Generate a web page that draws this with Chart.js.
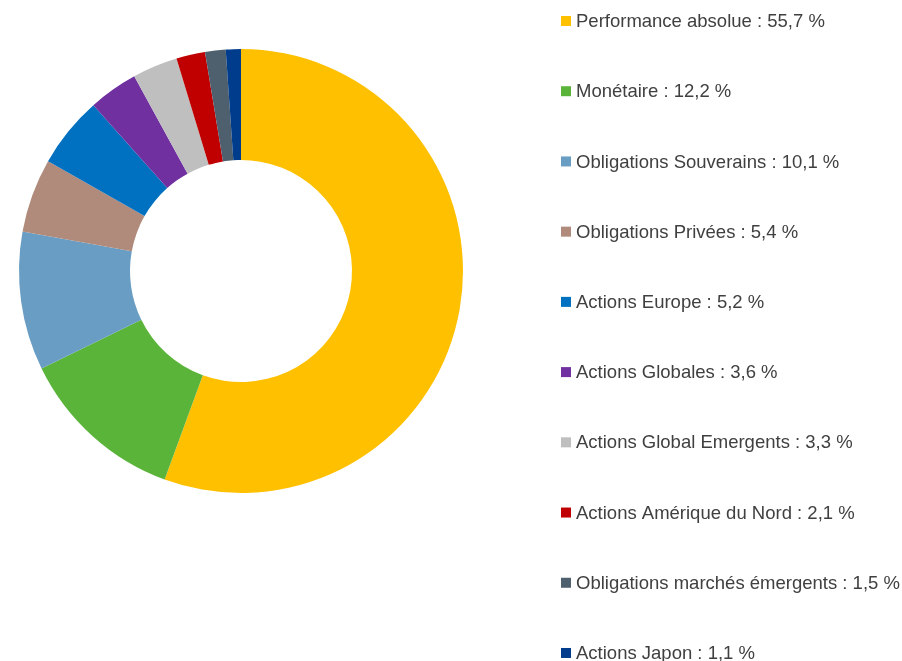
<!DOCTYPE html>
<html>
<head>
<meta charset="utf-8">
<script src="https://cdn.jsdelivr.net/npm/chart.js@4"></script>
<style>
  html, body { margin: 0; padding: 0; background: #fff; overflow: hidden; }
  #wrap { width: 902px; height: 661px; position: relative; }
</style>
</head>
<body>
<div id="wrap"><canvas id="chart"></canvas></div>
<script>
// categories and values
const labels = [
  'Performance absolue',
  'Monétaire',
  'Obligations Souverains',
  'Obligations Privées',
  'Actions Europe',
  'Actions Globales',
  'Actions Global Emergents',
  'Actions Amérique du Nord',
  'Obligations marchés émergents',
  'Actions Japon'
]
const values = [55.7, 12.2, 10.1, 5.4, 5.2, 3.6, 3.3, 2.1, 1.5, 1.1]
const colors = ['#FFC000', '#5BB43A', '#6A9DC3', '#B08B7B', '#0070C0',
  '#7030A0', '#BFBFBF', '#C00000', '#4E5F6D', '#003C8C']

/* legend drawn by hand, last line runs off the bottom like the original */
const sideLegend = {
  id: 'sideLegend',
  afterDraw(chart) {
    const ctx = chart.ctx
    ctx.save()
    ctx.font = '18.5px "Liberation Sans", Arial, sans-serif'
    ctx.textBaseline = 'middle'
    labels.forEach((lab, i) => {
      let y = 21 + i * 70.22
      ctx.fillStyle = colors[i]
      ctx.fillRect(561, y - 5, 10, 10)
      ctx.fillStyle = '#404040'
      ctx.fillText(lab + ' : ' + values[i].toFixed(1).replace('.', ',') + ' %', 576, y + 1)
    })
    ctx.restore()
  }
}

new Chart(document.getElementById('chart'), {
  type: 'doughnut',
  data: {
    labels: labels,
    datasets: [{
      data: values,
      backgroundColor: colors,
      borderWidth: 0
    }]
  },
  options: {
    responsive: true,
    maintainAspectRatio: false,
    animation: false,
    cutout: '50%',
    layout: {
      padding: { left: 19, top: 49, right: 439, bottom: 168 }
    },
    plugins: {
      legend: { display: false },
      tooltip: { enabled: false }
    }
  },
  plugins: [sideLegend]
})
</script>
</body>
</html>
